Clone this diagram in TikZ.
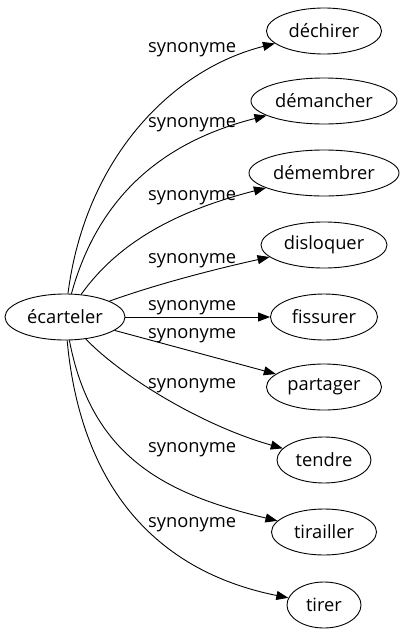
\documentclass[tikz,border=0pt]{standalone}
\usepackage{fontspec}
\setmainfont{Open Sans}
\usetikzlibrary{shapes.geometric,arrows.meta}
\tikzset{
  mot/.style={draw,ellipse,line width=.9pt,inner sep=0pt,minimum height=46pt,
    font=\fontsize{18.3}{20}\selectfont},
  syn/.style={anchor=base west,inner sep=0pt,font=\fontsize{18.3}{20}\selectfont},
  lien/.style={line width=.9pt,-{Triangle[length=12pt,width=9pt]}}
}
\begin{document}
\begin{tikzpicture}[x=1pt,y=-1pt]
    \useasboundingbox (0,0) rectangle (404,635);
    \node[mot,minimum width=120pt] (ecarteler) at (65,317) {écarteler};
    \foreach \n/\t/\y/\w in {dechirer/déchirer/31/115,demancher/démancher/101/146,
      demembrer/démembrer/173/150,disloquer/disloquer/245/126,fissurer/fissurer/317/107,
      partager/partager/387/115,tendre/tendre/460/94,tirailler/tirailler/532/105,
      tirer/tirer/605/74}
    \node[mot,minimum width=\w pt] (\n) at (324,\y) {\t};
    \foreach \ly in {47,122,195,258,305,333,383,447,522}
    \node[syn] at (148,\ly+5) {synonyme};
    \draw[lien] (ecarteler) .. controls (85,160) and (170,70) .. (dechirer);
    \draw[lien] (ecarteler) .. controls (100,190) and (170,140) .. (demancher);
    \draw[lien] (ecarteler) .. controls (120,240) and (180,210) .. (demembrer);
    \draw[lien] (ecarteler) .. controls (160,283) and (220,268) .. (disloquer);
    \draw[lien] (ecarteler) -- (fissurer);
    \draw[lien] (ecarteler) -- (partager);
    \draw[lien] (ecarteler) .. controls (120,375) and (200,425) .. (tendre);
    \draw[lien] (ecarteler) .. controls (92,460) and (170,495) .. (tirailler);
    \draw[lien] (ecarteler) .. controls (80,480) and (150,570) .. (tirer);
\end{tikzpicture}
\end{document}
